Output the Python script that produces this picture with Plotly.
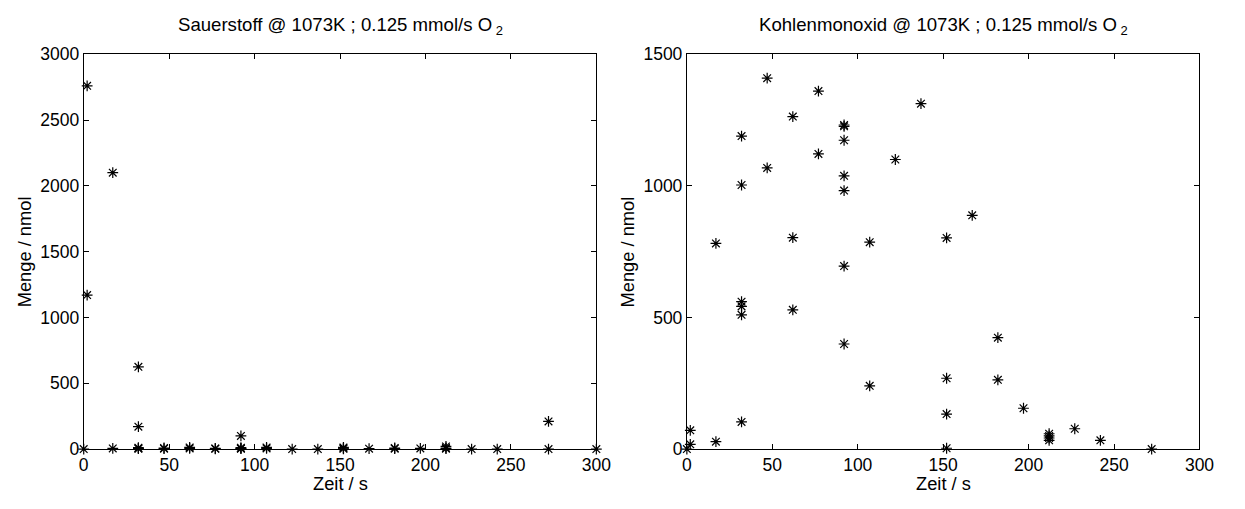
import plotly.graph_objects as go

# Sauerstoff (O2) data: time [s], amount [nmol]
o2_time = [0, 2, 2, 17, 17, 32, 32, 32, 32, 32, 47, 47, 62, 62, 77, 77,
           92, 92, 92, 92, 107, 107, 122, 137, 152, 152, 152, 167, 182, 182,
           197, 212, 212, 212, 227, 242, 272, 272, 300]
o2_amount = [0, 2760, 1170, 2100, 5, 625, 170, 10, 5, 3, 8, 3, 12, 5, 5, 2,
             100, 10, 5, 3, 12, 5, 0, 0, 12, 6, 2, 3, 8, 3,
             5, 20, 8, 3, 0, 0, 210, 0, 0]

# Kohlenmonoxid (CO) data: time [s], amount [nmol]
co_time = [0, 2, 2, 17, 17, 32, 32, 32, 32, 32, 32, 47, 47, 62, 62, 62,
           77, 77, 92, 92, 92, 92, 92, 92, 92, 107, 107, 122, 137,
           152, 152, 152, 152, 167, 182, 182, 197, 212, 212, 212, 212,
           227, 242, 272]
co_amount = [0, 18, 71, 28, 781, 103, 510, 542, 560, 1003, 1189, 1068, 1409,
             529, 803, 1263, 1121, 1360, 399, 695, 982, 1038, 1173, 1226, 1231,
             240, 786, 1100, 1312, 3, 133, 269, 802, 888, 263, 423, 155,
             33, 42, 50, 58, 77, 33, 0]

x_ticks = [0, 50, 100, 150, 200, 250, 300]
o2_yticks = [0, 500, 1000, 1500, 2000, 2500, 3000]
co_yticks = [0, 500, 1000, 1500]

titles = ["Sauerstoff @ 1073K ; 0.125 mmol/s O\u2009<sub>2</sub>",
          "Kohlenmonoxid @ 1073K ; 0.125 mmol/s O\u2009<sub>2</sub>"]
x_label = "Zeit / s"
y_label = "Menge / nmol"

W, H = 1245, 509
FONT = "Liberation Sans, Arial, Helvetica, sans-serif"
FS_TICK = 17.5
FS_LABEL = 18.3
FS_TITLE = 18.6

fig = go.Figure()
marker = dict(symbol="asterisk-open", size=9, color="black",
              line=dict(color="black", width=1.2))
fig.add_trace(go.Scatter(x=o2_time, y=o2_amount, mode="markers", marker=marker,
                         xaxis="x", yaxis="y", cliponaxis=False, showlegend=False))
fig.add_trace(go.Scatter(x=co_time, y=co_amount, mode="markers", marker=marker,
                         xaxis="x2", yaxis="y2", cliponaxis=False, showlegend=False))

left = (80 / W, 601 / W)
right = (693 / W, 1214 / W)
ydom = ((H - 457) / H, (H - 46) / H)

ax_common = dict(showline=True, linecolor="black", linewidth=1, mirror="ticks",
                 ticks="inside", ticklen=5, tickcolor="black", showgrid=False,
                 zeroline=False, tickfont=dict(family=FONT, size=FS_TICK, color="black"))

fig.update_layout(
    width=W, height=H,
    margin=dict(l=0, r=0, t=0, b=0),
    paper_bgcolor="white", plot_bgcolor="white",
    font=dict(family=FONT, size=FS_TICK, color="black"),
    xaxis=dict(domain=left, range=[0, 300], tickvals=x_ticks, anchor="y", **ax_common),
    yaxis=dict(domain=ydom, range=[0, 3000], tickvals=o2_yticks, anchor="x", **ax_common),
    xaxis2=dict(domain=right, range=[0, 300], tickvals=x_ticks, anchor="y2", **ax_common),
    yaxis2=dict(domain=ydom, range=[0, 1500], tickvals=co_yticks, anchor="x2", **ax_common),
)

ann = []
for dom, t, ylx in [(left, titles[0], 20), (right, titles[1], 633)]:
    cx = (dom[0] + dom[1]) / 2
    ann.append(dict(text=t, x=cx, y=(H - 17) / H, xref="paper", yref="paper",
                    showarrow=False, xanchor="center", yanchor="middle",
                    font=dict(family=FONT, size=FS_TITLE, color="black")))
    ann.append(dict(text=x_label, x=cx, y=(H - 493) / H, xref="paper", yref="paper",
                    showarrow=False, xanchor="center", yanchor="middle",
                    font=dict(family=FONT, size=FS_LABEL, color="black")))
    ann.append(dict(text=y_label, x=ylx / W, y=(ydom[0] + ydom[1]) / 2,
                    xref="paper", yref="paper", textangle=-90,
                    showarrow=False, xanchor="center", yanchor="middle",
                    font=dict(family=FONT, size=FS_LABEL, color="black")))
fig.update_layout(annotations=ann)

fig.write_html("out.html")
